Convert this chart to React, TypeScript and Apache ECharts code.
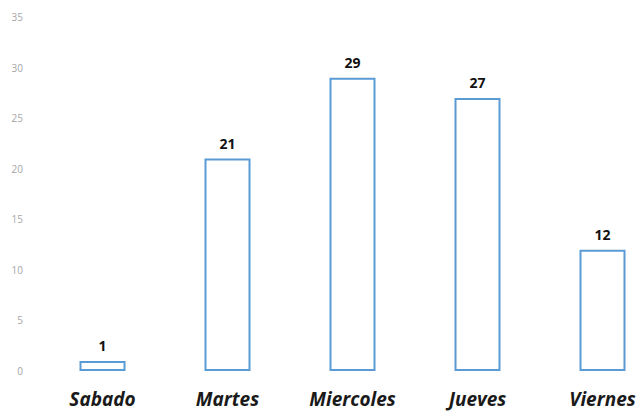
import React, { useEffect, useRef } from "react";
import * as echarts from "echarts";

const categories = ["Sabado", "Martes", "Miercoles", "Jueves", "Viernes"];
const values = [1, 21, 29, 27, 12];
const yMin = 0;
const yMax = 35;
const yInterval = 5;

export default function App() {
  const ref = useRef<HTMLDivElement>(null);
  useEffect(() => {
    if (!ref.current) return;
    const chart = echarts.init(ref.current, undefined, { renderer: "svg" });
    chart.setOption({
      animation: false,
      backgroundColor: "#ffffff",
      grid: { left: 40, right: 0, top: 17, bottom: 41, containLabel: false },
      xAxis: {
        type: "category",
        data: categories,
        axisLine: { show: false },
        axisTick: { show: false },
        axisLabel: {
          color: "#1a1a1a",
          fontFamily: "Open Sans",
          fontWeight: "bold",
          fontStyle: "italic",
          fontSize: 19,
          margin: 18,
          interval: 0,
        },
      },
      yAxis: {
        type: "value",
        min: yMin,
        max: yMax,
        interval: yInterval,
        axisLine: { show: false },
        axisTick: { show: false },
        splitLine: { show: false },
        axisLabel: {
          color: "#a6a6a6",
          fontFamily: "Open Sans",
          fontSize: 10,
          margin: 17,
        },
      },
      series: [
        {
          type: "bar",
          data: values,
          barWidth: 46,
          itemStyle: {
            color: "#ffffff",
            borderColor: "#5b9bd5",
            borderWidth: 2,
          },
          label: {
            show: true,
            position: "top",
            distance: 8,
            color: "#111111",
            fontFamily: "Open Sans",
            fontWeight: "bold",
            fontSize: 14,
          },
        },
      ],
    });
    return () => chart.dispose();
  }, []);
  return (
    <div
      style={{
        position: "fixed",
        left: 0,
        top: 0,
        width: 640,
        height: 412,
        overflow: "hidden",
        background: "#ffffff",
      }}
    >
      <div ref={ref} style={{ width: 665, height: 412 }} />
    </div>
  );
}
